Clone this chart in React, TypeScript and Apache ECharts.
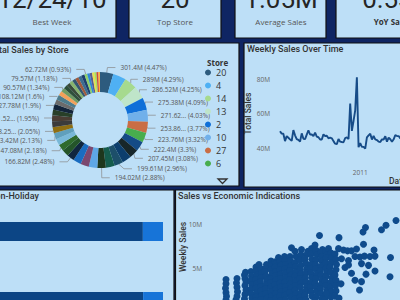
import React, { useEffect, useRef } from 'react';
import * as echarts from 'echarts';

// ---- Total sales by store (millions), largest first ----
const storeIds = ['20', '4', '14', '13', '2', '10', '27', '6', '1', '39', '19', '31', '23', '24', '11', '28', '41', '32', '18', '22', '12', '26', '34', '40', '35', '8', '17', '45', '21', '25', '43', '15', '7', '42', '9', '29', '16', '37', '30', '3', '38', '36', '5', '44', '33'];
const storeTotals = [301.40, 299.54, 289.00, 286.52, 275.38, 271.62, 253.86, 223.76, 222.40, 207.45, 206.63, 199.61, 198.75, 194.02, 193.96, 189.26, 181.34, 166.82, 155.11, 147.08, 144.29, 143.42, 138.25, 137.87, 131.52, 129.95, 127.78, 112.40, 108.12, 101.06, 90.57, 89.13, 81.60, 79.57, 77.79, 77.14, 74.25, 74.20, 62.72, 57.59, 55.16, 53.41, 45.48, 43.29, 37.16];
const labelledStores = ['20', '14', '13', '2', '10', '27', '6', '1', '39', '31', '24', '32', '22', '26', '34', '35', '17', '21', '43', '42', '30'];
const clippedValueStores = ['10', '27', '34', '35'];
const legendStores = storeIds.slice(0, 8);
const storeColors = ['#2d5b7e', '#4fb0f3', '#a6da8e', '#bfe5c9', '#0f6fd8', '#70b0ea', '#c96d45', '#48ad4d', '#144b86', '#17262a', '#0d3e6d', '#1d4f6a', '#155c4d', '#1e361c', '#5ea7e6', '#7b4870', '#1a6cc0', '#10263f', '#24552a', '#2f6b2c', '#78b8d8', '#5f9fbc', '#8f6e12', '#3b3b3b', '#4a3d33', '#283f28', '#13243a', '#6b6b6b', '#4d7c8c', '#f2a15a', '#6f9b62', '#2f4f3a', '#3a4a3a', '#88b46e', '#34566e', '#a25a3c', '#3d6d8f', '#1f3f6f', '#8fcf6a', '#2e86d6', '#5b5b8f', '#e8df4a', '#a8e05a', '#d04a3a', '#ffb03a'];

// ---- Weekly total sales (millions) ----
const weekDates = ['2010-02-05', '2010-02-12', '2010-02-19', '2010-02-26', '2010-03-05', '2010-03-12', '2010-03-19', '2010-03-26', '2010-04-02', '2010-04-09', '2010-04-16', '2010-04-23', '2010-04-30', '2010-05-07', '2010-05-14', '2010-05-21', '2010-05-28', '2010-06-04', '2010-06-11', '2010-06-18', '2010-06-25', '2010-07-02', '2010-07-09', '2010-07-16', '2010-07-23', '2010-07-30', '2010-08-06', '2010-08-13', '2010-08-20', '2010-08-27', '2010-09-03', '2010-09-10', '2010-09-17', '2010-09-24', '2010-10-01', '2010-10-08', '2010-10-15', '2010-10-22', '2010-10-29', '2010-11-05', '2010-11-12', '2010-11-19', '2010-11-26', '2010-12-03', '2010-12-10', '2010-12-17', '2010-12-24', '2010-12-31', '2011-01-07', '2011-01-14', '2011-01-21', '2011-01-28', '2011-02-04', '2011-02-11', '2011-02-18', '2011-02-25', '2011-03-04', '2011-03-11', '2011-03-18', '2011-03-25', '2011-04-01', '2011-04-08', '2011-04-15', '2011-04-22', '2011-04-29', '2011-05-06', '2011-05-13', '2011-05-20', '2011-05-27', '2011-06-03', '2011-06-10', '2011-06-17', '2011-06-24', '2011-07-01'];
const weeklyTotals = [49.75, 48.34, 48.28, 43.97, 46.87, 45.93, 44.99, 44.13, 50.42, 47.37, 45.18, 44.73, 43.71, 48.50, 45.33, 45.12, 47.76, 50.19, 47.83, 47.85, 46.88, 48.92, 46.59, 46.23, 44.93, 44.92, 47.92, 46.93, 47.10, 45.63, 46.02, 45.63, 43.98, 42.52, 42.24, 45.25, 43.68, 43.47, 43.34, 45.73, 46.13, 45.22, 65.82, 49.91, 55.67, 61.82, 80.93, 40.43, 42.78, 40.67, 40.65, 39.60, 46.15, 47.34, 48.28, 44.89, 46.97, 44.98, 44.62, 43.71, 43.46, 45.00, 44.91, 46.83, 43.69, 46.04, 45.09, 43.63, 45.05, 47.55, 46.95, 46.91, 45.51, 47.58];

// ---- Holiday vs non-holiday share (%) ----
const shareCategories = ['Sales', 'Weeks'];
const nonHolidayShare = [92.4, 92.5];
const holidayShare = [7.6, 7.5];

// ---- Store size (K sq ft) vs weekly sales (millions) ----
const salesTicks = [5, 10];
const sizeVsSales = [
  [41, 3.7], [41, 3.2], [40.5, 2.7], [41, 2.2], [41.5, 1.8], [41, 1.4],
  [52, 3.8], [51.5, 3.3], [52, 2.8], [52.5, 2.3], [52, 1.8], [51, 1.4],
  [60.5, 4.5], [59.5, 4.2], [60, 3.8], [61, 3.4], [60, 3.0], [61, 2.5], [60, 2.0], [59.5, 1.5],
  [66, 4.6], [66.5, 4.1], [66, 3.6], [67, 3.1], [66, 2.6], [66, 2.1], [67, 1.6],
  [71, 5.1], [71, 4.7], [72, 4.2], [71, 3.7], [71.5, 3.2], [71, 2.7], [72, 2.2], [71, 1.7], [71, 1.3],
  [74, 5.4], [76, 4.9], [76.5, 4.4], [76, 3.9], [75.5, 3.4], [76, 2.9], [76, 2.4], [77, 1.9], [76, 1.4],
  [81.5, 5.4], [81, 5.0], [80, 4.6], [81, 4.1], [82, 3.6], [81, 3.1], [80.5, 2.6], [81, 2.1], [82, 1.6],
  [86, 5.8], [86.5, 5.3], [86, 4.8], [87, 4.3], [86, 3.8], [85.5, 3.3], [86, 2.8], [86, 2.3], [87, 1.8], [86, 1.3],
  [90, 5.7], [91, 5.5], [90, 5.1], [91, 4.6], [90.5, 4.1], [91, 3.6], [90, 3.1], [91, 2.6], [90.5, 2.1], [91, 1.6],
  [93.5, 6.2], [95, 5.8], [96, 5.3], [95, 4.8], [95.5, 4.3], [96, 3.8], [95, 3.3], [95.5, 2.8], [96, 2.3], [95, 1.8], [96, 1.3],
  [99.5, 6.3], [100, 5.9], [101, 5.4], [100, 4.9], [100.5, 4.4], [101, 3.9], [100, 3.4], [100.5, 2.9], [101, 2.4], [100, 1.9], [100.5, 1.4],
  [106.5, 7.3], [105, 6.3], [105.5, 5.8], [106, 5.2], [105, 4.7], [106, 4.2], [105, 3.7], [105.5, 3.2], [106, 2.7], [105, 2.2], [106, 1.7],
  [110, 6.9], [111, 6.3], [110, 5.6], [110.5, 5.1], [111, 4.6], [110, 4.1], [110.5, 3.5], [111, 3.0], [110, 2.5], [111, 2.0], [110, 1.5],
  [116.5, 7.1], [116, 6.5], [115, 5.9], [116, 5.3], [115.5, 4.8], [116, 4.3], [115, 3.8], [116, 3.3], [115.5, 2.8], [116, 2.2], [115, 1.7], [116, 1.3],
  [123, 6.9], [121.5, 6.5], [120, 6.0], [121, 5.5], [122, 4.9], [121, 4.4], [120.5, 3.9], [121, 3.4], [122, 2.9], [121, 2.4], [120, 1.9], [121, 1.4],
  [126.5, 7.2], [126, 6.6], [127, 6.0], [126, 5.4], [125.5, 4.9], [126, 4.4], [127, 3.9], [126, 3.3], [125.5, 2.8], [126, 2.3], [127, 1.8],
  [130, 7.6], [131, 7.0], [132, 6.5], [131, 5.9], [130.5, 5.4], [131, 4.9], [132, 4.3], [131, 3.8], [130, 3.3], [131, 2.8], [132, 2.3], [131, 1.7], [130, 1.3],
  [137.5, 7.1], [136, 6.8], [136.5, 6.3], [137, 5.8], [136, 5.2], [135.5, 4.7], [136, 4.2], [137, 3.6], [136, 3.1], [135.5, 2.6], [136, 2.1], [137, 1.5],
  [141, 6.9], [142, 6.5], [141, 6.1], [140.5, 5.6], [141, 5.0], [142, 4.5], [141, 4.0], [140, 3.5], [141, 3.0], [142, 2.4], [141, 1.9], [140, 1.4],
  [143.5, 7.2], [146, 6.7], [146.5, 6.2], [146, 5.6], [145, 5.1], [146, 4.5], [147, 3.9], [146, 3.4], [145.5, 2.8], [146, 2.3], [146, 1.7],
  [150, 6.6], [151, 6.0], [151.5, 5.4], [151, 4.8], [150, 4.2], [151, 3.6], [150.5, 3.0], [151, 2.4], [150, 1.8],
  [134.5, 8.7], [154, 8.45], [153.5, 7.2], [158.5, 7.05], [162.5, 6.95], [166.5, 6.95], [171.5, 7.15], [170, 6.3], [175, 6.25], [179.5, 6.35],
  [185, 6.3], [190, 6.35], [205.5, 6.2], [178.5, 7.7], [189, 7.05], [180.5, 9.6], [178, 9.1], [196.5, 9.35], [201, 9.85], [211, 10.4],
  [190, 4.65], [181, 4.3], [205, 4.0], [176.5, 3.45], [170, 3.6], [174.5, 2.5], [160, 5.05], [163.5, 5.35], [166.5, 4.4], [156.5, 6.05],
  [163.5, 5.85], [176.5, 5.5], [183.5, 5.3], [141.5, 2.1], [156, 3.2], [154, 1.6]
];

const PANEL = '#bddff7';
const EDGE = '#111111';
const TITLE_FONT = 'Roboto, "Noto Sans", sans-serif';
const BODY_FONT = '"Open Sans", "Noto Sans", sans-serif';

const grandTotal = storeTotals.reduce((a, b) => a + b, 0);
const trim = (v: number) => String(Number(v.toFixed(2)));

function panelRect(x: number, y: number, w: number, h: number) {
  return { type: 'rect', z: 0, shape: { x, y, width: w, height: h }, style: { fill: PANEL, stroke: EDGE, lineWidth: 1.2 } };
}

function label(text: string, x: number, y: number, size: number, fill: string, weight: string | number = 'normal', align = 'left', family = TITLE_FONT, rotation = 0) {
  return {
    type: 'text', z: 1, x, y, rotation,
    style: { text, fill, fontSize: size, fontWeight: weight, fontFamily: family, align, verticalAlign: 'middle', textAlign: align, textVerticalAlign: 'middle' }
  };
}

export default function App() {
  const ref = useRef<HTMLDivElement>(null);

  useEffect(() => {
    document.body.style.margin = '0';
    const chart = echarts.init(ref.current!, null, { renderer: 'svg' });

    const firstWeek2011 = weekDates.find((d) => d.startsWith('2011'));

    const graphics: any[] = [
      // KPI cards
      panelRect(-13, -10, 129, 48),
      panelRect(129, -10, 92, 48),
      panelRect(235, -10, 91, 48),
      panelRect(336, -10, 122, 48),
      label('12/24/10', 52, -1, 26, '#252525', 'normal', 'center'),
      label('Best Week', 52, 21, 8, '#555', 'normal', 'center', BODY_FONT),
      label('20', 175, -1, 26, '#252525', 'normal', 'center'),
      label('Top Store', 175, 21, 8, '#555', 'normal', 'center', BODY_FONT),
      label('1.05M', 281, -1, 26, '#252525', 'normal', 'center'),
      label('Average Sales', 281, 21, 8, '#555', 'normal', 'center', BODY_FONT),
      label('0.53%', 397, -1, 26, '#252525', 'normal', 'center'),
      label('YoY Sales %', 397, 21, 8, '#333', 'bold', 'center', BODY_FONT),
      // visual panels
      panelRect(-5, 43, 244, 143),
      panelRect(244, 43, 162, 144),
      panelRect(-5, 190, 179, 115),
      panelRect(175.5, 190, 230, 115),
      label('Total Sales by Store', -11, 50, 9, '#333', 500),
      label('Weekly Sales Over Time', 247, 49, 9, '#333', 500),
      label('Holiday vs Non-Holiday', -55, 196, 9, '#333', 500),
      label('Sales vs Economic Indications', 178, 196, 9, '#333', 500),
      label('Weekly Sales', 183, 247, 8.5, '#333', 500, 'center', TITLE_FONT, Math.PI / 2),
      label('Store', 207, 62, 8, '#333', 'bold', 'left', BODY_FONT),
      label('Date', 389, 181, 8.5, '#333', 500),
      {
        type: 'polygon', z: 1,
        shape: { points: [[218, 179], [227, 179], [222.5, 183.5]] },
        style: { fill: 'none', stroke: '#333', lineWidth: 1.3 }
      }
    ];

    const option: any = {
      animation: false,
      backgroundColor: '#0f2563',
      graphic: graphics,
      legend: {
        data: legendStores,
        orient: 'vertical',
        left: 205,
        top: 68,
        itemWidth: 6,
        itemHeight: 6,
        itemGap: 4,
        icon: 'circle',
        textStyle: { fontSize: 9, color: '#333', fontFamily: BODY_FONT, lineHeight: 9 },
        padding: 0
      },
      grid: [
        { left: 280, right: -2, top: 61.75, bottom: 134.75, outerBoundsMode: 'none' },
        { left: 205, right: 0, top: 180, bottom: -12, outerBoundsMode: 'none' },
        { left: -102, right: 237, top: 196.5, bottom: -36.5, outerBoundsMode: 'none' }
      ],
      xAxis: [
        {
          gridIndex: 0, type: 'category', data: weekDates, boundaryGap: false,
          axisLine: { show: false }, axisTick: { show: false },
          axisLabel: { interval: 0, margin: 4, fontSize: 6.5, color: '#666', fontFamily: BODY_FONT, formatter: (v: string) => (v === firstWeek2011 ? v.slice(0, 4) : '') }
        },
        { gridIndex: 1, type: 'value', min: 20, max: 215, axisLine: { show: false }, axisTick: { show: false }, axisLabel: { show: false }, splitLine: { show: false } },
        { gridIndex: 2, type: 'value', min: 0, max: 100, axisLine: { show: false }, axisTick: { show: false }, axisLabel: { show: false }, splitLine: { show: false } }
      ],
      yAxis: [
        {
          gridIndex: 0, type: 'value', min: 30, max: 90, interval: 10,
          axisLine: { show: false }, axisTick: { show: false }, splitLine: { show: false },
          axisLabel: { margin: 10, fontSize: 6.5, color: '#666', fontFamily: BODY_FONT, formatter: (v: number) => (v % 20 === 0 ? `${v}M` : '') },
          name: 'Total Sales', nameLocation: 'middle', nameGap: 20,
          nameTextStyle: { fontSize: 8.5, color: '#333', fontWeight: 500, fontFamily: TITLE_FONT }
        },
        {
          gridIndex: 1, type: 'value', min: 0, max: 15, interval: 5,
          axisLine: { show: false }, axisTick: { show: false }, splitLine: { show: false },
          axisLabel: { show: false }
        },
        {
          gridIndex: 2, type: 'category', data: shareCategories, inverse: true,
          axisLine: { show: false }, axisTick: { show: false }, axisLabel: { show: false }
        }
      ],
      series: [
        {
          type: 'pie',
          left: -150, top: 0, width: 420, height: 300,
          center: [250, 120],
          radius: [28, 48],
          startAngle: 90,
          avoidLabelOverlap: true,
          label: {
            fontSize: 6.5, color: '#555', fontFamily: BODY_FONT,
            formatter: (p: any) => {
              const pct = trim((p.value / grandTotal) * 100);
              const val = clippedValueStores.includes(p.name) ? `${trim(p.value)}...` : `${trim(p.value)}M`;
              return `${val} (${pct}%)`;
            }
          },
          labelLine: { length: 5, length2: 8, lineStyle: { color: '#888', width: 0.7 } },
          data: storeIds.map((id, i) => {
            const shown = labelledStores.includes(id);
            return {
              name: id, value: storeTotals[i],
              itemStyle: { color: storeColors[i] },
              label: { show: shown }, labelLine: { show: shown }
            };
          })
        },
        {
          type: 'line', xAxisIndex: 0, yAxisIndex: 0, data: weeklyTotals,
          showSymbol: false, lineStyle: { color: '#174c88', width: 1.9 }
        },
        {
          type: 'scatter', xAxisIndex: 1, yAxisIndex: 1, data: sizeVsSales,
          symbolSize: 7, itemStyle: { color: '#0f4b8c', opacity: 1 }
        },
        {
          type: 'bar', xAxisIndex: 2, yAxisIndex: 2, stack: 'share', name: 'Non-Holiday',
          data: nonHolidayShare, barWidth: 19, itemStyle: { color: '#0c4585' }
        },
        {
          type: 'bar', xAxisIndex: 2, yAxisIndex: 2, stack: 'share', name: 'Holiday',
          data: holidayShare, barWidth: 19, itemStyle: { color: '#1774d8' }
        }
      ]
    };

    chart.setOption(option);

    // Sales tick labels for the scatter, placed through the axis scale
    try {
      const tickTexts = salesTicks.map((t) => {
        const pt = chart.convertToPixel({ gridIndex: 1 } as any, [20, t]) as number[];
        return label(`${t}M`, 202, pt[1], 6.5, '#666', 'normal', 'right', BODY_FONT);
      });
      chart.setOption({ graphic: [...graphics, ...tickTexts] });
    } catch (e) {
      // leave the chart without the extra tick texts
    }

    return () => chart.dispose();
  }, []);

  return <div ref={ref} style={{ width: 400, height: 300 }} />;
}
